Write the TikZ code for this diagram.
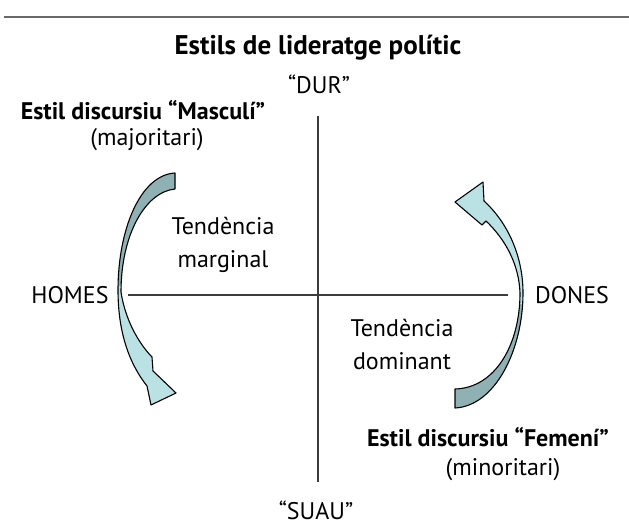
\documentclass[tikz,border=0pt]{standalone}
\usepackage{fontspec}
\setmainfont{PT Sans}
\usetikzlibrary{positioning}

\definecolor{arrowdark}{RGB}{143,177,179}
\definecolor{arrowlight}{RGB}{186,225,228}
\definecolor{axisgray}{RGB}{60,60,60}
\definecolor{rulegray}{RGB}{105,105,105}

% outlines of the two curved arrows (px, y down)
\newcommand{\homesarrow}{(175,173) .. controls (140,175) and (118,230) .. (118,290)
  .. controls (118,330) and (128,362) .. (147,386)
  -- (151,405) -- (176,393) -- (153,371) -- (152,357)
  .. controls (143,348) and (126,325) .. (121,292)
  .. controls (121,235) and (145,192) .. (175,189) -- cycle}
\newcommand{\donesarrow}{(455,408) .. controls (495,406) and (523,350) .. (523,293)
  .. controls (523,255) and (507,222) .. (484,201)
  -- (483,182) -- (455,202) -- (482,225) -- (486,221)
  .. controls (506,240) and (519,265) .. (520,293)
  .. controls (520,345) and (495,388) .. (455,389) -- cycle}

\begin{document}
\begin{tikzpicture}[
    x=1pt, y=-1pt,
    txt/.style={font=\fontsize{24}{33}\selectfont, inner sep=0pt, align=center},
    heading/.style={font=\fontsize{24}{28}\selectfont\bfseries, inner sep=0pt},
    axis/.style={axisgray, line width=1.4pt},
    ribbon/.style={draw=black, line width=1.1pt, line join=round},
  ]
  \useasboundingbox (0,0) rectangle (629,526);

  % top rule
  \draw[rulegray, line width=2pt] (4,17) -- (629,17);

  % title
  \node[heading, font=\fontsize{27}{30}\selectfont\bfseries] (title) at (318,48) {Estils de lideratge polític};

  % poles
  \node[txt] (dur) at (319,84) {“DUR”};
  \node[txt] (suau) at (316,510) {“SUAU”};
  \node[txt] (homes) at (70,295) {HOMES};
  \node[txt] (dones) at (572,295) {DONES};

  % axes
  \coordinate (vtop) at (318,116);
  \coordinate (vbot) at (318,482);
  \coordinate (hleft) at (128,295);
  \coordinate (hright) at (508,295);
  \draw[axis] (vtop) -- (vbot);
  \draw[axis] (hleft) -- (hright);

  % styles
  \node[heading] (masc) at (143,110) {Estil discursiu “Masculí”};
  \node[txt] (major) at (147,140) {(majoritari)};
  \node[heading] (fem) at (488,437) {Estil discursiu “Femení”};
  \node[txt] (minor) at (503,470) {(minoritari)};

  % tendencies
  \node[txt] (marg) at (223,245) {Tendència\\marginal};
  \node[txt] (domin) at (402,345) {Tendència\\dominant};

  % HOMES arrow
  \fill[arrowlight] \homesarrow;
  \begin{scope}
    \clip (0,0) rectangle (629,286);
    \fill[arrowdark] \homesarrow;
  \end{scope}
  \draw[ribbon] \homesarrow;

  % DONES arrow
  \fill[arrowlight] \donesarrow;
  \begin{scope}
    \clip (0,305) rectangle (629,526);
    \fill[arrowdark] \donesarrow;
  \end{scope}
  \draw[ribbon] \donesarrow;

\end{tikzpicture}
\end{document}
